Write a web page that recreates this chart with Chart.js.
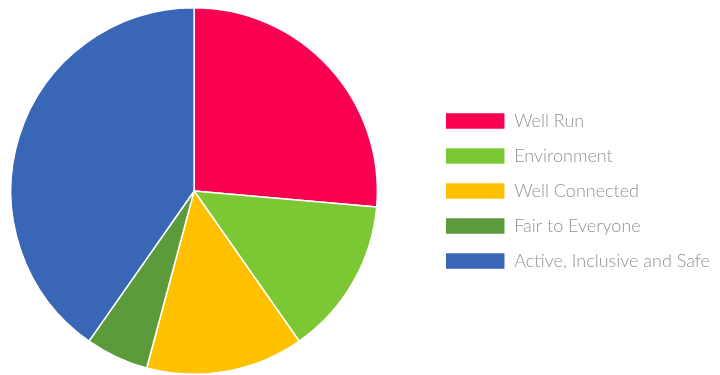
<!DOCTYPE html>
<html>
<head>
<meta charset="utf-8">
<script src="https://cdn.jsdelivr.net/npm/chart.js"></script>
<style>
    html, body { margin: 0; padding: 0; background: #ffffff; overflow: hidden; }
    /* canvas is a bit wider than the window and shifted left so the pie sits where the reference has it */
    #wrap { width: 760px; height: 375px; position: absolute; left: -40px; top: 0; }
</style>
</head>
<body>
<div id="wrap"><canvas id="pie"></canvas></div>
<script>
// slice values (share of the circle)
const categories = ['Well Run', 'Environment', 'Well Connected', 'Fair to Everyone', 'Active, Inclusive and Safe'];
const values = [19, 10, 10, 4, 29];
const colors = ['#fa0050', '#7cc834', '#ffc000', '#5b9b3b', '#3a66b6'];

Chart.defaults.font.family = 'Lato, "Open Sans", sans-serif';

new Chart(document.getElementById('pie').getContext('2d'), {
    type: 'pie',
    data: {
        labels: categories,
        datasets: [{
            data: values,
            backgroundColor: colors,
            borderColor: '#ffffff',
            borderWidth: 1.5,
        }],
    },
    options: {
        responsive: true,
        maintainAspectRatio: false,
        animation: false,
        layout: { padding: { left: 0, top: 7, right: 0, bottom: 0 } },
        plugins: {
            tooltip: { enabled: false },
            legend: {
                position: 'right',
                labels: {
                    boxWidth: 60,
                    boxHeight: 17,
                    padding: 17,
                    color: '#929292',
                    font: { size: 18, weight: '300' },
                },
            },
        },
    },
});
</script>
</body>
</html>
